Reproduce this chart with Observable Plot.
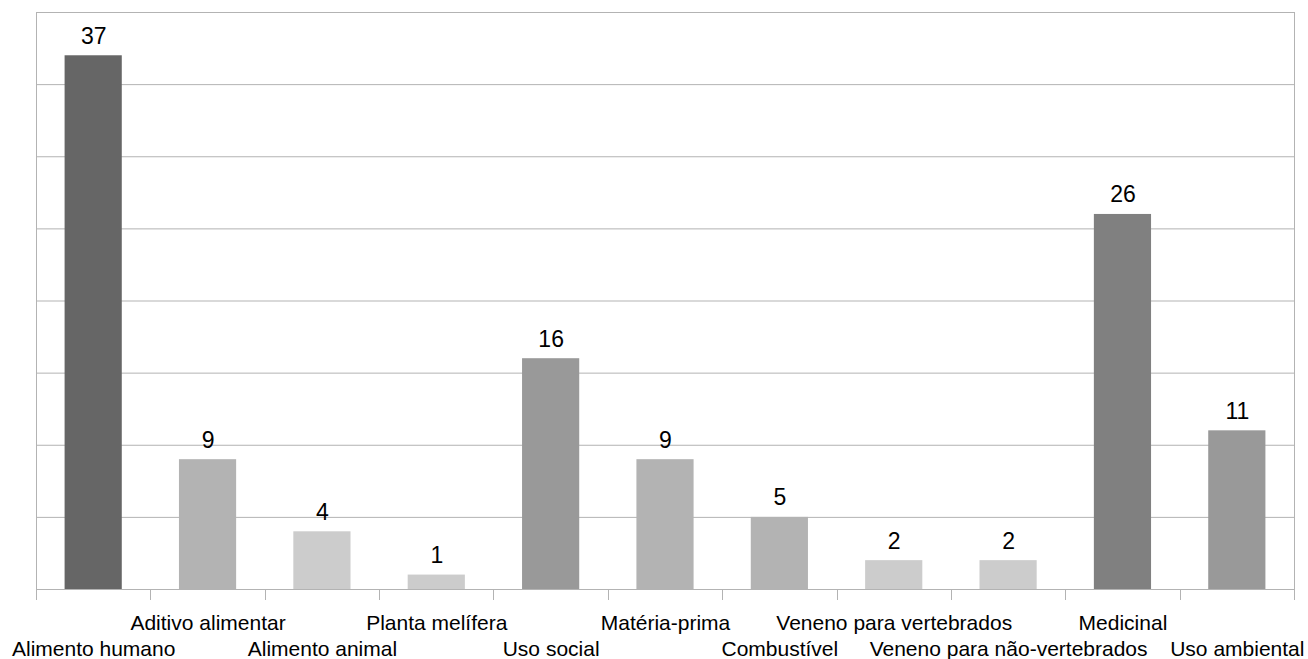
<!DOCTYPE html>
<html><head><meta charset="utf-8">
<script src="https://cdn.jsdelivr.net/npm/d3@7"></script>
<script src="https://cdn.jsdelivr.net/npm/@observablehq/plot@0.6"></script>
<style>html,body{margin:0;padding:0;background:#fff}svg{display:block}</style>
</head><body><div id="chart"></div>
<script>
const categories = ["Alimento humano","Aditivo alimentar","Alimento animal","Planta melífera","Uso social","Matéria-prima","Combustível","Veneno para vertebrados","Veneno para não-vertebrados","Medicinal","Uso ambiental"];
const values = [37, 9, 4, 1, 16, 9, 5, 2, 2, 26, 11];
const barColors = ["#666666","#b3b3b3","#cccccc","#cccccc","#999999","#b3b3b3","#b3b3b3","#cccccc","#cccccc","#808080","#999999"];
const yTicks = [0, 5, 10, 15, 20, 25, 30, 35, 40];

const data = categories.map((c, i) => ({category: c, value: values[i], row: i % 2}));

function boundaryTicks(index, scales, vals, dimensions) {
  const x = scales.x;
  const bw = typeof x.bandwidth === "function" ? x.bandwidth() : x.bandwidth;
  const step = x(categories[1]) - x(categories[0]);
  const y0 = dimensions.height - dimensions.marginBottom;
  const g = d3.create("svg:g");
  const bounds = categories.map(c => x(c) + bw / 2 - step / 2);
  bounds.push(x(categories[categories.length - 1]) + bw / 2 + step / 2);
  g.selectAll("line").data(bounds).join("line")
    .attr("x1", d => Math.round(d) + 0.5).attr("x2", d => Math.round(d) + 0.5)
    .attr("y1", y0).attr("y2", y0 + 11)
    .attr("stroke", "#b3b3b3").attr("stroke-width", 1);
  return g.node();
}

const chart = Plot.plot({
  width: 1308,
  height: 659,
  marginLeft: 36,
  marginRight: 14,
  marginTop: 12,
  marginBottom: 70,
  style: {fontFamily: "'Liberation Sans', Arial, sans-serif", background: "#fff", overflow: "visible"},
  x: {domain: categories, axis: null, paddingInner: 0.5, paddingOuter: 0.25, round: false},
  y: {domain: [0, 40], axis: null},
  color: {domain: categories, range: barColors},
  marks: [
    Plot.ruleY(yTicks, {stroke: "#b3b3b3", strokeWidth: 1}),
    Plot.frame({stroke: "#b3b3b3"}),
    boundaryTicks,
    Plot.barY(data, {x: "category", y: "value", fill: "category"}),
    Plot.text(data, {x: "category", y: "value", text: d => String(d.value), lineAnchor: "bottom", dy: -12, fontSize: 23, fill: "#000"}),
    Plot.text(data.filter(d => d.row === 1), {x: "category", frameAnchor: "bottom", text: "category", lineAnchor: "bottom", dy: 40, fontSize: 21, fill: "#000"}),
    Plot.text(data.filter(d => d.row === 0), {x: "category", frameAnchor: "bottom", text: "category", lineAnchor: "bottom", dy: 66, fontSize: 21, fill: "#000"})
  ]
});
document.getElementById("chart").appendChild(chart);
</script>
</body></html>
